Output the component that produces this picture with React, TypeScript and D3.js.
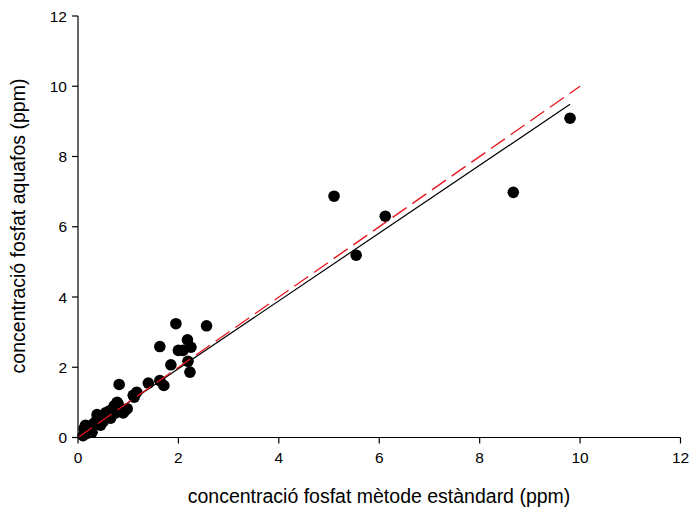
import React from "react";
import * as d3 from "d3";

const xStandard: number[] = [
  0.1, 0.12, 0.15, 0.18, 0.22, 0.25, 0.28, 0.3, 0.35, 0.38, 0.42, 0.45, 0.48, 0.5,
  0.55, 0.6, 0.62, 0.65, 0.7, 0.72, 0.75, 0.78, 0.8, 0.85, 0.9, 0.94, 0.98,
  0.82, 1.1, 1.12, 1.17, 1.4, 1.63, 1.71, 1.63,
  1.95, 2.56, 2.18, 2.0, 2.09, 2.25, 1.85, 2.19, 2.23,
  5.1, 5.54, 6.12, 8.67, 9.8,
];
const yAquafos: number[] = [
  0.05, 0.25, 0.35, 0.12, 0.2, 0.3, 0.15, 0.38, 0.45, 0.65, 0.4, 0.35, 0.55, 0.45,
  0.7, 0.6, 0.75, 0.55, 0.8, 0.9, 0.7, 1.0, 0.95, 0.75, 0.7, 0.77, 0.82,
  1.51, 1.2, 1.15, 1.29, 1.55, 1.62, 1.48, 2.59,
  3.24, 3.18, 2.78, 2.48, 2.48, 2.57, 2.07, 2.17, 1.86,
  6.87, 5.19, 6.3, 6.98, 9.09,
];
const xTicks: number[] = [0, 2, 4, 6, 8, 10, 12];
const yTicks: number[] = [0, 2, 4, 6, 8, 10, 12];
const regressionX: number[] = [0, 9.8];
const regressionSlope = 0.965;
const regressionIntercept = 0.03;
const identityX: number[] = [0, 10];

const xTitle = "concentració fosfat mètode estàndard (ppm)";
const yTitle = "concentració fosfat aquafos (ppm)";

export default function App() {
  const W = 692, H = 514;
  const x = d3.scaleLinear().domain([0, 12]).range([78, 680.5]);
  const y = d3.scaleLinear().domain([0, 12]).range([437.5, 16]);
  const line = d3.line<[number, number]>().x(d => x(d[0])).y(d => y(d[1]));
  const regPts: [number, number][] = regressionX.map(v => [v, regressionIntercept + regressionSlope * v]);
  const idPts: [number, number][] = identityX.map(v => [v, v]);
  const font = "'Liberation Sans', Arial, sans-serif";
  return (
    <svg width={W} height={H} style={{ position: "absolute", left: 0, top: 0, display: "block", background: "#fff" }} fontFamily={font}>
      {xStandard.map((v, i) => (
        <circle key={i} cx={x(v)} cy={y(yAquafos[i])} r={5.8} fill="#000" />
      ))}
      <path d={line(regPts) || ""} stroke="#000" strokeWidth={1.2} fill="none" />
      <path d={line(idPts) || ""} stroke="#e8141c" strokeWidth={1.3} fill="none" strokeDasharray="17,7" />
      <line x1={x(0)} x2={x(12)} y1={y(0)} y2={y(0)} stroke="#000" strokeWidth={1.2} />
      <line x1={x(0)} x2={x(0)} y1={y(0)} y2={y(12)} stroke="#000" strokeWidth={1.2} />
      {xTicks.map(t => (
        <g key={"x" + t}>
          <line x1={x(t)} x2={x(t)} y1={y(0)} y2={y(0) + 6} stroke="#000" strokeWidth={1.2} />
          <text x={x(t)} y={y(0) + 25} textAnchor="middle" fontSize={15.5} fill="#000">{t}</text>
        </g>
      ))}
      {yTicks.map(t => (
        <g key={"y" + t}>
          <line x1={x(0) - 6} x2={x(0)} y1={y(t)} y2={y(t)} stroke="#000" strokeWidth={1.2} />
          <text x={x(0) - 11} y={y(t) + 5.5} textAnchor="end" fontSize={15.5} fill="#000">{t}</text>
        </g>
      ))}
      <text x={379} y={503} textAnchor="middle" fontSize={19.5} fill="#000">{xTitle}</text>
      <text transform={`translate(25,226) rotate(-90)`} textAnchor="middle" fontSize={19.5} fill="#000">{yTitle}</text>
    </svg>
  );
}
